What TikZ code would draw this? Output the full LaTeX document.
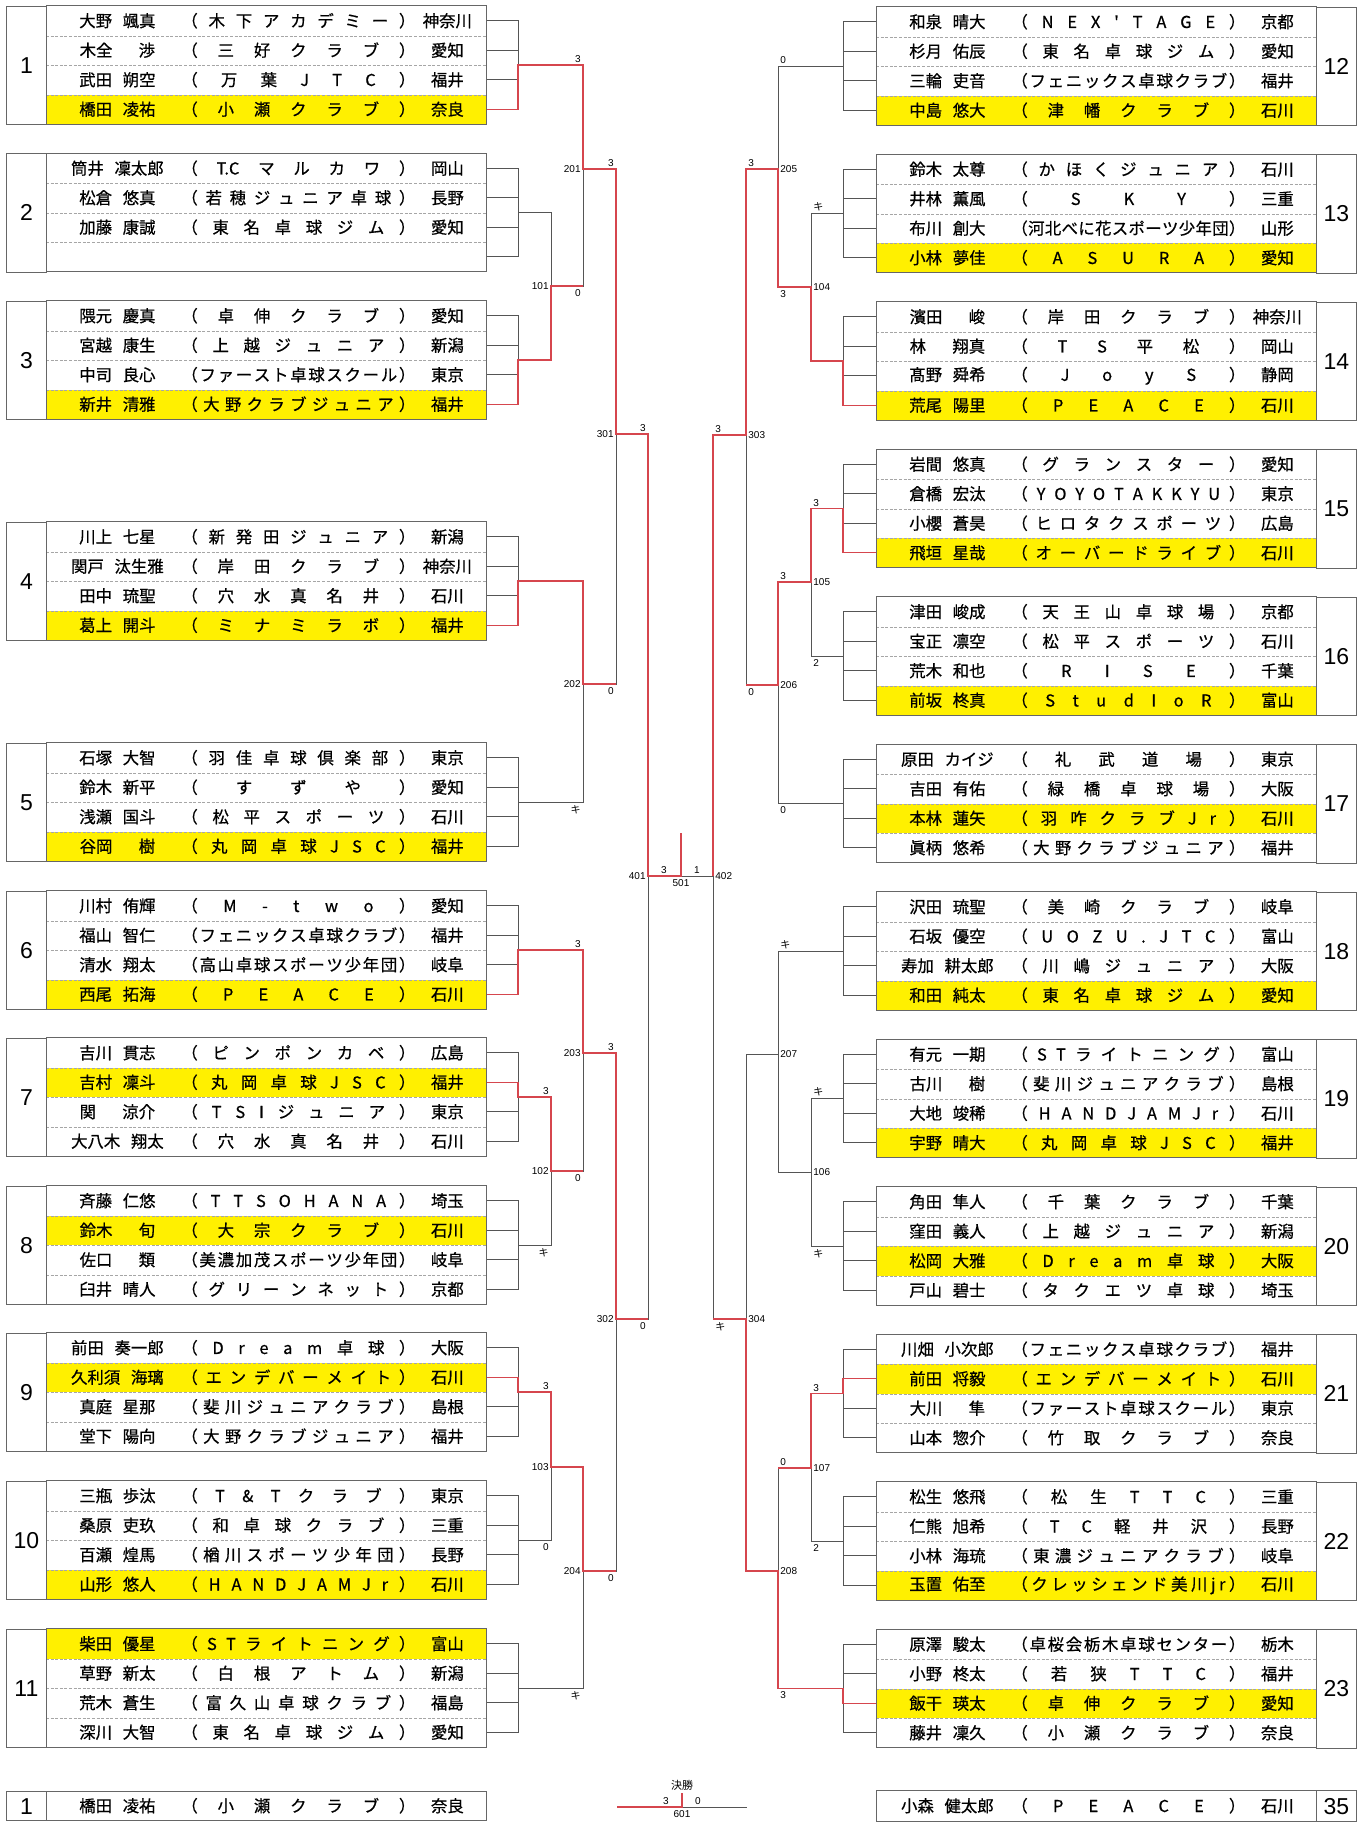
\documentclass[tikz,border=0pt]{standalone}
\usepackage{graphicx}
\usepackage{fontspec}
\setmainfont{Noto Sans CJK JP}
\newfontfamily\rowfont{Noto Sans CJK JP}[FakeBold=0.6]
\newfontfamily\numfont{Liberation Sans}
\usetikzlibrary{positioning}

\definecolor{winred}{RGB}{214,70,78}
\definecolor{wiregray}{RGB}{85,85,85}
\definecolor{hiyellow}{RGB}{255,240,0}

\newsavebox\tmpbox
\newlength\tmplen

\ExplSyntaxOn
\NewDocumentCommand\spreadtl{m}{\tl_map_inline:nn{#1}{\hfill##1}}
\ExplSyntaxOff

% club name spread between the brackets
\newcommand\club[1]{%
  \sbox\tmpbox{（#1）}%
  \ifdim\wd\tmpbox>117pt\resizebox{117pt}{\height}{\usebox\tmpbox}%
  \else\makebox[117pt][s]{（\spreadtl{#1}\hfill）}\fi}
% family name left, given name right
\newcommand\pname[2]{%
  \sbox\tmpbox{#1#2}\setlength\tmplen{\wd\tmpbox}\addtolength\tmplen{0.65em}%
  \ifdim\tmplen<4.6em\setlength\tmplen{4.6em}\fi
  \makebox[\tmplen]{#1\hfill#2}}
\newcommand\rowtxt[4]{\hbox to 220pt{%
  \rlap{\hspace*{35.5pt}\makebox[0pt]{\pname{#1}{#2}}}%
  \rlap{\hspace*{67.5pt}\club{#3}}%
  \rlap{\hspace*{200.5pt}\makebox[0pt]{#4}}\hfill}}

\newcommand\leftblock[3]{\def\gid{#1}\def\gtop{#3}\def\gx{46}\def\gend{east}%
  \node[numbox] (#1n) at (6,#3) {#2};
  \coordinate (#1o) at (518,#3+59);}
\newcommand\rightblock[3]{\def\gid{#1}\def\gtop{#3}\def\gx{876}\def\gend{west}%
  \node[numbox] (#1n) at (1316,#3) {#2};
  \coordinate (#1o) at (843,#3+59);}
\newcommand\prow[6]{%
  \node[prow,#2] (\gid r#1) at (\gx,\gtop+29.5*#1-14.75) {\rowtxt{#3}{#4}{#5}{#6}};}
\newcommand\erow[1]{\node[prow] (\gid r#1) at (\gx,\gtop+29.5*#1-14.75) {};}
\newcommand\blockclose{%
  \foreach \r in {1,2,3}{\draw[rowsep] (\gid r\r.south west) -- (\gid r\r.south east);}
  \draw[grpbox] (\gid n.north west) rectangle (\gid n.south east);
  \draw[grpbox] (\gid r1.north west) rectangle (\gid r4.south east);
  \foreach \r in {1,...,4}{\draw[wire] (\gid r\r.\gend) -| (\gid o);}}

\begin{document}
\begin{tikzpicture}[x=0.5pt,y=-0.5pt]

\tikzset{prow/.style = {minimum width=220pt, minimum height=14.75pt, inner sep=0pt, anchor=west, font=\rowfont\fontsize{8.2}{9}\selectfont}}
\tikzset{won/.style = {fill=hiyellow}}
\tikzset{numbox/.style = {minimum width=20pt, minimum height=59pt, inner sep=0pt, anchor=north west, font=\numfont\fontsize{11.5}{12}\selectfont}}
\tikzset{grpbox/.style = {draw=black!60, line width=0.5pt}}
\tikzset{rowsep/.style = {draw=black!35, line width=0.4pt, dash pattern=on 1.5pt off 0.8pt}}
\tikzset{wire/.style = {draw=wiregray, line width=0.5pt}}
\tikzset{win/.style = {draw=winred, line width=0.6pt}}
\tikzset{mno/.style = {inner sep=0pt, font=\numfont\fontsize{5}{6}\selectfont}}
\tikzset{kmark/.style = {inner sep=0pt, font=\fontsize{5}{6}\selectfont}}

\fill[white] (0,0) rectangle (1370,1822);
\useasboundingbox (0,0) rectangle (1370,1822);

% left blocks
\leftblock{g1}{1}{6}
\prow{1}{}{大野}{颯真}{木下アカデミー}{神奈川}
\prow{2}{}{木全}{渉}{三好クラブ}{愛知}
\prow{3}{}{武田}{朔空}{万葉JTC}{福井}
\prow{4}{won}{橋田}{凌祐}{小瀬クラブ}{奈良}
\blockclose
\leftblock{g2}{2}{153.5}
\prow{1}{}{筒井}{凜太郎}{{T.C}マルカワ}{岡山}
\prow{2}{}{松倉}{悠真}{若穂ジュニア卓球}{長野}
\prow{3}{}{加藤}{康誠}{東名卓球ジム}{愛知}
\erow{4}
\blockclose
\leftblock{g3}{3}{301}
\prow{1}{}{隈元}{慶真}{卓伸クラブ}{愛知}
\prow{2}{}{宮越}{康生}{上越ジュニア}{新潟}
\prow{3}{}{中司}{良心}{ファースト卓球スクール}{東京}
\prow{4}{won}{新井}{清雅}{大野クラブジュニア}{福井}
\blockclose
\leftblock{g4}{4}{522}
\prow{1}{}{川上}{七星}{新発田ジュニア}{新潟}
\prow{2}{}{関戸}{汰生雅}{岸田クラブ}{神奈川}
\prow{3}{}{田中}{琉聖}{穴水真名井}{石川}
\prow{4}{won}{葛上}{開斗}{ミナミラボ}{福井}
\blockclose
\leftblock{g5}{5}{743}
\prow{1}{}{石塚}{大智}{羽佳卓球倶楽部}{東京}
\prow{2}{}{鈴木}{新平}{すずや}{愛知}
\prow{3}{}{浅瀬}{国斗}{松平スポーツ}{石川}
\prow{4}{won}{谷岡}{樹}{丸岡卓球JSC}{福井}
\blockclose
\leftblock{g6}{6}{891}
\prow{1}{}{川村}{侑輝}{M-two}{愛知}
\prow{2}{}{福山}{智仁}{フェニックス卓球クラブ}{福井}
\prow{3}{}{清水}{翔太}{高山卓球スポーツ少年団}{岐阜}
\prow{4}{won}{西尾}{拓海}{PEACE}{石川}
\blockclose
\leftblock{g7}{7}{1038}
\prow{1}{}{吉川}{貫志}{ピンポンカベ}{広島}
\prow{2}{won}{吉村}{凜斗}{丸岡卓球JSC}{福井}
\prow{3}{}{関}{涼介}{TSIジュニア}{東京}
\prow{4}{}{大八木}{翔太}{穴水真名井}{石川}
\blockclose
\leftblock{g8}{8}{1186}
\prow{1}{}{斉藤}{仁悠}{TTSOHANA}{埼玉}
\prow{2}{won}{鈴木}{旬}{大宗クラブ}{石川}
\prow{3}{}{佐口}{類}{美濃加茂スポーツ少年団}{岐阜}
\prow{4}{}{臼井}{晴人}{グリーンネット}{京都}
\blockclose
\leftblock{g9}{9}{1333}
\prow{1}{}{前田}{奏一郎}{Dream卓球}{大阪}
\prow{2}{won}{久利須}{海璃}{エンデバーメイト}{石川}
\prow{3}{}{真庭}{星那}{斐川ジュニアクラブ}{島根}
\prow{4}{}{堂下}{陽向}{大野クラブジュニア}{福井}
\blockclose
\leftblock{g10}{10}{1481}
\prow{1}{}{三瓶}{歩汰}{T\&Tクラブ}{東京}
\prow{2}{}{桑原}{吏玖}{和卓球クラブ}{三重}
\prow{3}{}{百瀬}{煌馬}{楢川スポーツ少年団}{長野}
\prow{4}{won}{山形}{悠人}{HANDJAMJr}{石川}
\blockclose
\leftblock{g11}{11}{1629}
\prow{1}{won}{柴田}{優星}{STライトニング}{富山}
\prow{2}{}{草野}{新太}{白根アトム}{新潟}
\prow{3}{}{荒木}{蒼生}{富久山卓球クラブ}{福島}
\prow{4}{}{深川}{大智}{東名卓球ジム}{愛知}
\blockclose

% right blocks
\rightblock{g12}{12}{7}
\prow{1}{}{和泉}{晴大}{NEX'TAGE}{京都}
\prow{2}{}{杉月}{佑辰}{東名卓球ジム}{愛知}
\prow{3}{}{三輪}{吏音}{フェニックス卓球クラブ}{福井}
\prow{4}{won}{中島}{悠大}{津幡クラブ}{石川}
\blockclose
\rightblock{g13}{13}{154.5}
\prow{1}{}{鈴木}{太尊}{かほくジュニア}{石川}
\prow{2}{}{井林}{薫風}{SKY}{三重}
\prow{3}{}{布川}{創大}{河北べに花スポーツ少年団}{山形}
\prow{4}{won}{小林}{夢佳}{ASURA}{愛知}
\blockclose
\rightblock{g14}{14}{302}
\prow{1}{}{濱田}{峻}{岸田クラブ}{神奈川}
\prow{2}{}{林}{翔真}{TS平松}{岡山}
\prow{3}{}{髙野}{舜希}{JoyS}{静岡}
\prow{4}{won}{荒尾}{陽里}{PEACE}{石川}
\blockclose
\rightblock{g15}{15}{449.5}
\prow{1}{}{岩間}{悠真}{グランスター}{愛知}
\prow{2}{}{倉橋}{宏汰}{YOYOTAKKYU}{東京}
\prow{3}{}{小櫻}{蒼昊}{ヒロタクスポーツ}{広島}
\prow{4}{won}{飛垣}{星哉}{オーバードライブ}{石川}
\blockclose
\rightblock{g16}{16}{597}
\prow{1}{}{津田}{峻成}{天王山卓球場}{京都}
\prow{2}{}{宝正}{凛空}{松平スポーツ}{石川}
\prow{3}{}{荒木}{和也}{RISE}{千葉}
\prow{4}{won}{前坂}{柊真}{StudIoR}{富山}
\blockclose
\rightblock{g17}{17}{744.5}
\prow{1}{}{原田}{カイジ}{礼武道場}{東京}
\prow{2}{}{吉田}{有佑}{緑橋卓球場}{大阪}
\prow{3}{won}{本林}{蓮矢}{羽咋クラブJr}{石川}
\prow{4}{}{眞柄}{悠希}{大野クラブジュニア}{福井}
\blockclose
\rightblock{g18}{18}{892}
\prow{1}{}{沢田}{琉聖}{美崎クラブ}{岐阜}
\prow{2}{}{石坂}{優空}{UOZU.JTC}{富山}
\prow{3}{}{寿加}{耕太郎}{川嶋ジュニア}{大阪}
\prow{4}{won}{和田}{純太}{東名卓球ジム}{愛知}
\blockclose
\rightblock{g19}{19}{1039.5}
\prow{1}{}{有元}{一期}{STライトニング}{富山}
\prow{2}{}{古川}{樹}{斐川ジュニアクラブ}{島根}
\prow{3}{}{大地}{竣稀}{HANDJAMJr}{石川}
\prow{4}{won}{宇野}{晴大}{丸岡卓球JSC}{福井}
\blockclose
\rightblock{g20}{20}{1187}
\prow{1}{}{角田}{隼人}{千葉クラブ}{千葉}
\prow{2}{}{窪田}{義人}{上越ジュニア}{新潟}
\prow{3}{won}{松岡}{大雅}{Dream卓球}{大阪}
\prow{4}{}{戸山}{碧士}{タクエツ卓球}{埼玉}
\blockclose
\rightblock{g21}{21}{1334.5}
\prow{1}{}{川畑}{小次郎}{フェニックス卓球クラブ}{福井}
\prow{2}{won}{前田}{将毅}{エンデバーメイト}{石川}
\prow{3}{}{大川}{隼}{ファースト卓球スクール}{東京}
\prow{4}{}{山本}{惣介}{竹取クラブ}{奈良}
\blockclose
\rightblock{g22}{22}{1482}
\prow{1}{}{松生}{悠飛}{松生TTC}{三重}
\prow{2}{}{仁熊}{旭希}{TC軽井沢}{長野}
\prow{3}{}{小林}{海琉}{東濃ジュニアクラブ}{岐阜}
\prow{4}{won}{玉置}{佑至}{クレッシェンド美川jr}{石川}
\blockclose
\rightblock{g23}{23}{1629.5}
\prow{1}{}{原澤}{駿太}{卓桜会栃木卓球センター}{栃木}
\prow{2}{}{小野}{柊太}{若狭TTC}{福井}
\prow{3}{won}{飯干}{瑛太}{卓伸クラブ}{愛知}
\prow{4}{}{藤井}{凜久}{小瀬クラブ}{奈良}
\blockclose

% final boxes
\node[numbox, minimum height=14.75pt] (b1n) at (6,1791) {1};
\node[prow] (b1r) at (46,1805.75) {\rowtxt{橋田}{凌祐}{小瀬クラブ}{奈良}};
\draw[grpbox] (b1n.north west) rectangle (b1r.south east);
\draw[grpbox] (b1n.north east) -- (b1n.south east);
\node[prow] (b2r) at (876,1805.75) {\rowtxt{小森}{健太郎}{PEACE}{石川}};
\node[numbox, minimum height=14.75pt] (b2n) at (1316,1791) {35};
\draw[grpbox] (b2r.north west) rectangle (b2n.south east);
\draw[grpbox] (b2n.north west) -- (b2n.south west);

% match points
\coordinate (m101) at (551,286);
\coordinate (m102) at (551,1171);
\coordinate (m103) at (551,1467);
\coordinate (m201) at (583,169);
\coordinate (m202) at (583,684);
\coordinate (m203) at (583,1053);
\coordinate (m204) at (583,1571);
\coordinate (m301) at (616,434);
\coordinate (m302) at (616,1319);
\coordinate (m401) at (648,876);
\coordinate (m501) at (681,876);
\coordinate (t501) at (681,833);
\coordinate (m402) at (713,876);
\coordinate (m303) at (746,435);
\coordinate (m304) at (746,1319);
\coordinate (m205) at (778,169);
\coordinate (m206) at (778,685);
\coordinate (m207) at (778,1054);
\coordinate (m208) at (778,1571);
\coordinate (m104) at (811,287);
\coordinate (m105) at (811,582);
\coordinate (m106) at (811,1172);
\coordinate (m107) at (811,1468);

% bracket, left
\draw[wire] (g2o) -| (m101);
\draw[wire] (g3o) -| (m101);
\draw[wire] (g1o) -| (m201);
\draw[wire] (m101) -| (m201);
\draw[wire] (g4o) -| (m202);
\draw[wire] (g5o) -| (m202);
\draw[wire] (m201) -| (m301);
\draw[wire] (m202) -| (m301);
\draw[wire] (g7o) -| (m102);
\draw[wire] (g8o) -| (m102);
\draw[wire] (g6o) -| (m203);
\draw[wire] (m102) -| (m203);
\draw[wire] (g9o) -| (m103);
\draw[wire] (g10o) -| (m103);
\draw[wire] (m103) -| (m204);
\draw[wire] (g11o) -| (m204);
\draw[wire] (m203) -| (m302);
\draw[wire] (m204) -| (m302);
\draw[wire] (m301) -| (m401);
\draw[wire] (m302) -| (m401);
% bracket, right
\draw[wire] (g13o) -| (m104);
\draw[wire] (g14o) -| (m104);
\draw[wire] (g12o) -| (m205);
\draw[wire] (m104) -| (m205);
\draw[wire] (g15o) -| (m105);
\draw[wire] (g16o) -| (m105);
\draw[wire] (m105) -| (m206);
\draw[wire] (g17o) -| (m206);
\draw[wire] (m205) -| (m303);
\draw[wire] (m206) -| (m303);
\draw[wire] (g19o) -| (m106);
\draw[wire] (g20o) -| (m106);
\draw[wire] (g18o) -| (m207);
\draw[wire] (m106) -| (m207);
\draw[wire] (g21o) -| (m107);
\draw[wire] (g22o) -| (m107);
\draw[wire] (m107) -| (m208);
\draw[wire] (g23o) -| (m208);
\draw[wire] (m207) -| (m304);
\draw[wire] (m208) -| (m304);
\draw[wire] (m303) -| (m402);
\draw[wire] (m304) -| (m402);
\draw[wire] (m401) -- (m402);

% winners
\draw[win] (g1r4.east) -| (g1o) -| (m201) -| (m301) -| (m401) -- (m501) -- (t501);
\draw[win] (g3r4.east) -| (g3o) -| (m101) -- (m101 -| m201);
\draw[win] (g4r4.east) -| (g4o) -| (m202) -- (m202 -| m301);
\draw[win] (g6r4.east) -| (g6o) -| (m203) -| (m302) -- (m302 -| m401);
\draw[win] (g7r2.east) -| (g7o) -| (m102) -- (m102 -| m203);
\draw[win] (g9r2.east) -| (g9o) -| (m103) -| (m204) -- (m204 -| m302);
\draw[win] (g14r4.west) -| (g14o) -| (m104) -| (m205) -| (m303) -| (m402);
\draw[win] (g15r4.west) -| (g15o) -| (m105) -| (m206) -- (m206 -| m303);
\draw[win] (g21r2.west) -| (g21o) -| (m107) -- (m107 -| m208);
\draw[win] (g23r3.west) -| (g23o) -| (m208) -| (m304) -- (m304 -| m402);

% match numbers
\node[mno, anchor=east] (l101) at (549,286) {101};
\node[mno, anchor=east] (l102) at (549,1171) {102};
\node[mno, anchor=east] (l103) at (549,1467) {103};
\node[mno, anchor=east] (l201) at (581,169) {201};
\node[mno, anchor=east] (l202) at (581,684) {202};
\node[mno, anchor=east] (l203) at (581,1053) {203};
\node[mno, anchor=east] (l204) at (581,1571) {204};
\node[mno, anchor=east] (l301) at (614,434) {301};
\node[mno, anchor=east] (l302) at (614,1319) {302};
\node[mno, anchor=east] (l401) at (646,876) {401};
\node[mno, anchor=north] (l501) at (681,879) {501};
\node[mno, anchor=west] (l402) at (715,876) {402};
\node[mno, anchor=west] (l303) at (748,435) {303};
\node[mno, anchor=west] (l304) at (748,1319) {304};
\node[mno, anchor=west] (l205) at (780,169) {205};
\node[mno, anchor=west] (l206) at (780,685) {206};
\node[mno, anchor=west] (l207) at (780,1054) {207};
\node[mno, anchor=west] (l208) at (780,1571) {208};
\node[mno, anchor=west] (l104) at (813,287) {104};
\node[mno, anchor=west] (l105) at (813,582) {105};
\node[mno, anchor=west] (l106) at (813,1172) {106};
\node[mno, anchor=west] (l107) at (813,1468) {107};

% scores, left
\node[mno, anchor=south east] (s1) at (581,63) {3};
\node[mno, anchor=north east] (s101) at (581,289) {0};
\node[mno, anchor=south east] (s201) at (614,167) {3};
\node[mno, anchor=north east] (s202) at (614,687) {0};
\node[mno, anchor=south east] (s301) at (646,432) {3};
\node[mno, anchor=north east] (s302) at (646,1322) {0};
\node[kmark, anchor=north east] (s5) at (581,805) {キ};
\node[mno, anchor=south east] (s6) at (581,948) {3};
\node[mno, anchor=north east] (s102) at (581,1174) {0};
\node[mno, anchor=south east] (s203) at (614,1051) {3};
\node[mno, anchor=north east] (s204) at (614,1574) {0};
\node[mno, anchor=south east] (s7) at (549,1095) {3};
\node[kmark, anchor=north east] (s8) at (549,1248) {キ};
\node[mno, anchor=south east] (s9) at (549,1390) {3};
\node[mno, anchor=north east] (s10) at (549,1543) {0};
\node[kmark, anchor=north east] (s11) at (581,1691) {キ};
% scores, right
\node[mno, anchor=south west] (s12) at (780,64) {0};
\node[mno, anchor=north west] (s104) at (780,290) {3};
\node[kmark, anchor=south west] (s13) at (813,211.5) {キ};
\node[mno, anchor=south west] (s205) at (748,167) {3};
\node[mno, anchor=north west] (s206) at (748,688) {0};
\node[mno, anchor=south west] (s303) at (715,433) {3};
\node[kmark, anchor=north west] (s304) at (715,1322) {キ};
\node[mno, anchor=south west] (s15) at (813,506.5) {3};
\node[mno, anchor=north west] (s16) at (813,659) {2};
\node[mno, anchor=south west] (s105) at (780,580) {3};
\node[mno, anchor=north west] (s17) at (780,806.5) {0};
\node[kmark, anchor=south west] (s18) at (780,949) {キ};
\node[kmark, anchor=south west] (s19) at (813,1096.5) {キ};
\node[kmark, anchor=north west] (s20) at (813,1249) {キ};
\node[mno, anchor=south west] (s21) at (813,1391.5) {3};
\node[mno, anchor=north west] (s22) at (813,1544) {2};
\node[mno, anchor=south west] (s107) at (780,1466) {0};
\node[mno, anchor=north west] (s23) at (780,1691.5) {3};
% semi-final
\node[mno, anchor=south] (s401) at (664,874) {3};
\node[mno, anchor=south] (s402) at (697,874) {1};

% final
\coordinate (f601a) at (617,1807);
\coordinate (f601b) at (747,1807);
\coordinate (m601) at (682,1807);
\coordinate (t601) at (682,1793);
\draw[wire] (m601) -- (f601b);
\draw[win] (f601a) -- (m601) -- (t601);
\node[kmark, anchor=south, font=\fontsize{5.5}{6}\selectfont] (ttl) at (682,1791) {決勝};
\node[mno, anchor=south] (s601a) at (666,1805) {3};
\node[mno, anchor=south] (s601b) at (698,1805) {0};
\node[mno, anchor=north] (l601) at (682,1810) {601};
\end{tikzpicture}
\end{document}
